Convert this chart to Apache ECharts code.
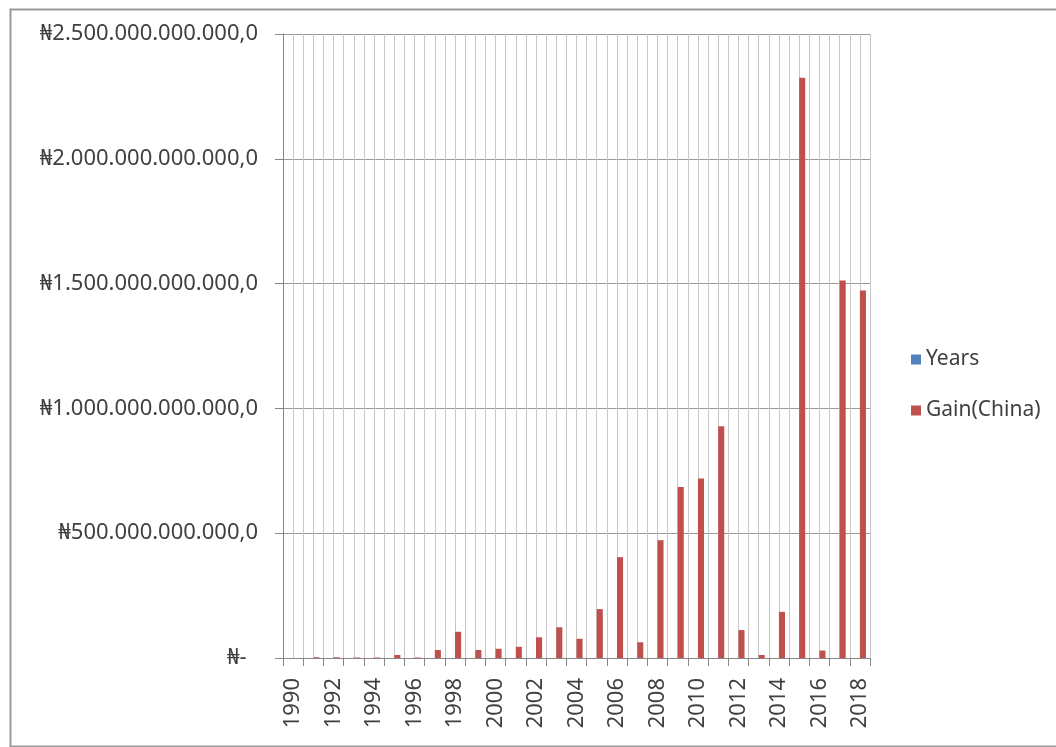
<!DOCTYPE html>
<html>
<head>
<meta charset="utf-8">
<script src="https://cdn.jsdelivr.net/npm/echarts@6/dist/echarts.min.js"></script>
<style>
html,body{margin:0;padding:0;background:#fff;}
#chart{width:1056px;height:747px;}
</style>
</head>
<body>
<div id="chart"></div>
<script>
const years = ['1990','1991','1992','1993','1994','1995','1996','1997','1998','1999','2000','2001','2002','2003','2004','2005','2006','2007','2008','2009','2010','2011','2012','2013','2014','2015','2016','2017','2018'];
const yearsSeries = [1990,1991,1992,1993,1994,1995,1996,1997,1998,1999,2000,2001,2002,2003,2004,2005,2006,2007,2008,2009,2010,2011,2012,2013,2014,2015,2016,2017,2018];
const gainChina = [0,3e9,3e9,2e9,2e9,12e9,2e9,32e9,105e9,32e9,37e9,45e9,83e9,123e9,77e9,196e9,404e9,63e9,472e9,685e9,719e9,928e9,112e9,12e9,185e9,2325e9,30e9,1512e9,1472e9];
const yTicks = [0,500e9,1000e9,1500e9,2000e9,2500e9];
const seriesNames = ['Years','Gain(China)'];

const minorCats = [];
years.forEach(function(){ minorCats.push(''); minorCats.push(''); });

function fmtNaira(v){
  if (v === 0) return '₦-  ';
  const s = Math.round(v).toString().replace(/\B(?=(\d{3})+(?!\d))/g, '.');
  return '₦' + s + ',0';
}

const chart = echarts.init(document.getElementById('chart'));
const font = "'Noto Sans', 'DejaVu Sans', sans-serif";
chart.setOption({
  animation: false,
  backgroundColor: '#fff',
  graphic: [{
    type: 'rect', left: 8, top: 7, shape: {width: 1060, height: 737},
    style: {fill: 'none', stroke: '#9a9a9a', lineWidth: 2}, silent: true
  }],
  grid: {left: 283, right: 186, top: 34, bottom: 89},
  legend: {
    orient: 'vertical', left: 906, top: 344, itemGap: 30,
    itemWidth: 10, itemHeight: 10, icon: 'rect',
    textStyle: {fontFamily: font, fontSize: 21, color: '#404040'},
    data: seriesNames
  },
  xAxis: [{
    type: 'category', data: years, boundaryGap: true,
    axisLine: {show: true, lineStyle: {color: '#868686', width: 1}},
    axisTick: {show: true, interval: 0, length: 8, lineStyle: {color: '#868686'}},
    axisLabel: {interval: 1, rotate: 90, margin: 20, fontFamily: font, fontSize: 22, color: '#404040'},
    splitLine: {show: false}
  }, {
    type: 'category', data: minorCats, boundaryGap: true, position: 'bottom',
    axisLine: {show: false}, axisTick: {show: false}, axisLabel: {show: false},
    splitLine: {show: true, interval: 0, lineStyle: {color: '#c6c6c6', width: 1}}
  }],
  yAxis: {
    type: 'value', min: 0, max: 2500e9, interval: 500e9,
    axisLine: {show: true, lineStyle: {color: '#868686'}},
    axisTick: {show: true, length: 8, lineStyle: {color: '#868686'}},
    axisLabel: {margin: 25, fontFamily: font, fontSize: 22, color: '#404040', formatter: fmtNaira},
    splitLine: {show: true, lineStyle: {color: '#9a9a9a', width: 1}}
  },
  series: [{
    name: seriesNames[0], type: 'bar', xAxisIndex: 0, data: yearsSeries,
    itemStyle: {color: '#4F81BD'}, barGap: '0%', barCategoryGap: '40%'
  }, {
    name: seriesNames[1], type: 'bar', xAxisIndex: 0, data: gainChina,
    itemStyle: {color: '#C0504D'}, barGap: '0%', barCategoryGap: '40%'
  }]
});
</script>
</body>
</html>
